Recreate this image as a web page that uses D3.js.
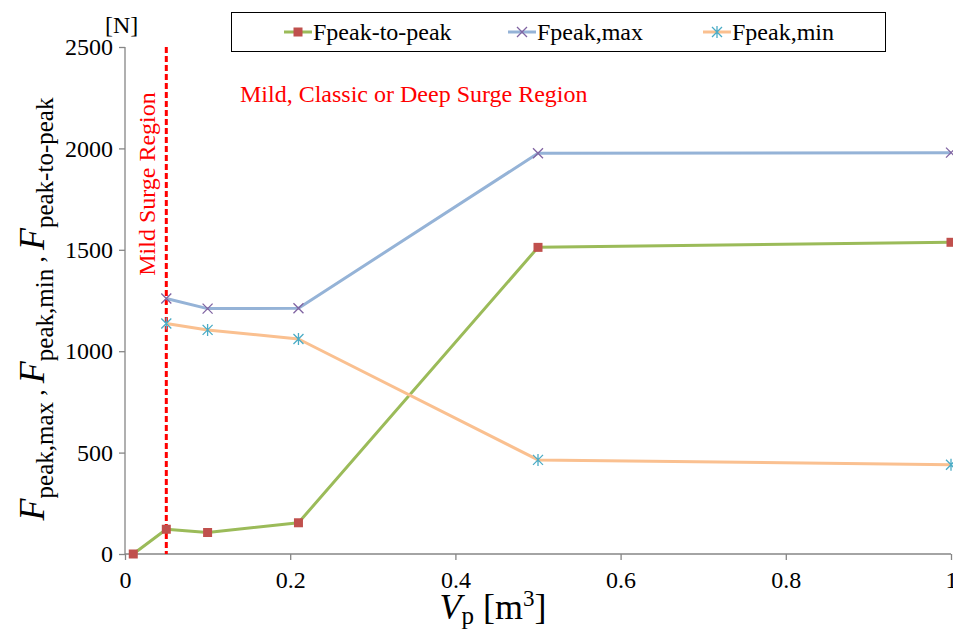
<!DOCTYPE html>
<html>
<head>
<meta charset="utf-8">
<script src="https://cdn.jsdelivr.net/npm/d3@7"></script>
<style>
  html, body { margin: 0; padding: 0; background: #fff; }
  svg text { font-family: "Liberation Serif", "Times New Roman", serif; }
</style>
</head>
<body>
<svg id="chart" width="953" height="630"></svg>
<script>
// Plenum volume [m^3]
const volumes = [0.01, 0.05, 0.1, 0.21, 0.5, 1.0];
// Force amplitudes [N]
const peakToPeak = [0, 122, 106, 154, 1512, 1537];
const peakMax = [null, 1260, 1210, 1212, 1976, 1979];
const peakMin = [null, 1137, 1105, 1060, 464, 440];

const xTicks = [0, 0.2, 0.4, 0.6, 0.8, 1];
const yTicks = [0, 500, 1000, 1500, 2000, 2500];
const mildSurgeLimit = 0.05;

const seriesNames = ["Fpeak-to-peak", "Fpeak,max", "Fpeak,min"];
const lineColors = ["#9BBB59", "#95B3D7", "#FAC090"];
const markerColors = ["#C0504D", "#8064A2", "#4BACC6"];
const markerTypes = ["square", "cross", "asterisk"];

const svg = d3.select("#chart");
const margin = { left: 125, right: 2, top: 47, bottom: 76 };
const W = 953, H = 630;

const x = d3.scaleLinear().domain([0, 1]).range([margin.left, W - margin.right]);
const y = d3.scaleLinear().domain([0, 2500]).range([H - margin.bottom, margin.top]);

const axisColor = "#868686";
const labelSize = "24px";

// Axes
const xAxis = svg.append("g")
  .attr("transform", `translate(0,${y(0)})`)
  .call(d3.axisBottom(x).tickValues(xTicks).tickSize(6).tickPadding(11)
    .tickFormat(d => d === 0 ? "0" : d === 1 ? "1" : d3.format(".1f")(d)));
const yAxis = svg.append("g")
  .attr("transform", `translate(${x(0)},0)`)
  .call(d3.axisLeft(y).tickValues(yTicks).tickSize(6).tickPadding(6).tickFormat(d3.format("d")));

[xAxis, yAxis].forEach(g => {
  g.select(".domain").attr("stroke", axisColor).attr("stroke-width", 1.3);
  g.selectAll(".tick line").attr("stroke", axisColor).attr("stroke-width", 1.3);
  g.selectAll(".tick text").attr("fill", "#000").style("font-size", labelSize);
});
xAxis.select(".domain").attr("d", `M${x(0)},0H${x(1)}`);
yAxis.select(".domain").attr("d", `M0,${y(0)}V${y(2500)}`);

// Mild surge boundary
svg.append("line")
  .attr("x1", x(mildSurgeLimit)).attr("x2", x(mildSurgeLimit))
  .attr("y1", y(2500)).attr("y2", y(0))
  .attr("stroke", "#FF0000").attr("stroke-width", 3)
  .attr("stroke-dasharray", "6,3");

svg.append("text")
  .attr("transform", `translate(${x(mildSurgeLimit) - 11},${184}) rotate(-90)`)
  .attr("text-anchor", "middle")
  .attr("fill", "#FF0000")
  .style("font-size", labelSize)
  .text("Mild Surge Region");

svg.append("text")
  .attr("x", 240).attr("y", 102)
  .attr("fill", "#FF0000")
  .style("font-size", labelSize)
  .text("Mild, Classic or Deep Surge Region");

// Series
const seriesData = [peakToPeak, peakMax, peakMin].map(vals =>
  volumes.map((v, i) => ({ x: v, y: vals[i] })).filter(d => d.y !== null));

const line = d3.line().x(d => x(d.x)).y(d => y(d.y));

function drawMarker(g, type, color, cx, cy) {
  if (type === "square") {
    g.append("rect").attr("x", cx - 4.5).attr("y", cy - 4.5)
      .attr("width", 9).attr("height", 9).attr("fill", color);
  } else if (type === "cross") {
    const s = 5;
    g.append("path").attr("d", `M${cx - s},${cy - s}L${cx + s},${cy + s}M${cx - s},${cy + s}L${cx + s},${cy - s}`)
      .attr("stroke", color).attr("stroke-width", 1.3).attr("fill", "none");
  } else {
    const s = 5;
    g.append("path").attr("d",
      `M${cx - s},${cy - s}L${cx + s},${cy + s}M${cx - s},${cy + s}L${cx + s},${cy - s}M${cx},${cy - s - 1}L${cx},${cy + s + 1}`)
      .attr("stroke", color).attr("stroke-width", 1.3).attr("fill", "none");
  }
}

seriesData.forEach((data, i) => {
  svg.append("path").datum(data)
    .attr("d", line)
    .attr("fill", "none")
    .attr("stroke", lineColors[i])
    .attr("stroke-width", 3)
    .attr("stroke-linejoin", "round");
});
seriesData.forEach((data, i) => {
  const g = svg.append("g");
  data.forEach(d => drawMarker(g, markerTypes[i], markerColors[i], x(d.x), y(d.y)));
});

// Legend
const legend = svg.append("g");
legend.append("rect")
  .attr("x", 231.5).attr("y", 12.5).attr("width", 654).attr("height", 39)
  .attr("fill", "#fff").attr("stroke", "#000").attr("stroke-width", 1);
const legendX = [298, 522, 717];
seriesNames.forEach((name, i) => {
  const lx = legendX[i], ly = 32;
  legend.append("line").attr("x1", lx - 14).attr("x2", lx + 14)
    .attr("y1", ly).attr("y2", ly)
    .attr("stroke", lineColors[i]).attr("stroke-width", 3);
  drawMarker(legend, markerTypes[i], markerColors[i], lx, ly);
  legend.append("text").attr("x", lx + 15).attr("y", ly + 8)
    .style("font-size", labelSize).attr("fill", "#000").text(name);
});

// Unit label
svg.append("text").attr("x", 105).attr("y", 33)
  .style("font-size", labelSize).attr("fill", "#000").text("[N]");

// Y axis title
const yTitle = svg.append("text")
  .attr("transform", `translate(44,${309}) rotate(-90)`)
  .attr("text-anchor", "middle")
  .attr("fill", "#000")
  .style("font-size", "36px");
const parts = [
  ["F", "peak,max", " , "],
  ["F", "peak,min", " , "],
  ["F", "peak-to-peak", ""]
];
parts.forEach(([main, sub, sep]) => {
  yTitle.append("tspan").style("font-style", "italic").text(main);
  yTitle.append("tspan").attr("dy", 9).style("font-size", "25px").text(sub);
  yTitle.append("tspan").attr("dy", -9).style("font-size", "25px").text(sep);
});

// X axis title
const xTitle = svg.append("text")
  .attr("x", 493).attr("y", 619)
  .attr("text-anchor", "middle")
  .attr("fill", "#000")
  .style("font-size", "36px");
xTitle.append("tspan").style("font-style", "italic").text("V");
xTitle.append("tspan").attr("dy", 5).style("font-size", "25px").text("p");
xTitle.append("tspan").attr("dy", -5).text(" [m");
xTitle.append("tspan").attr("dy", -13).style("font-size", "23px").text("3");
xTitle.append("tspan").attr("dy", 13).text("]");
</script>
</body>
</html>
